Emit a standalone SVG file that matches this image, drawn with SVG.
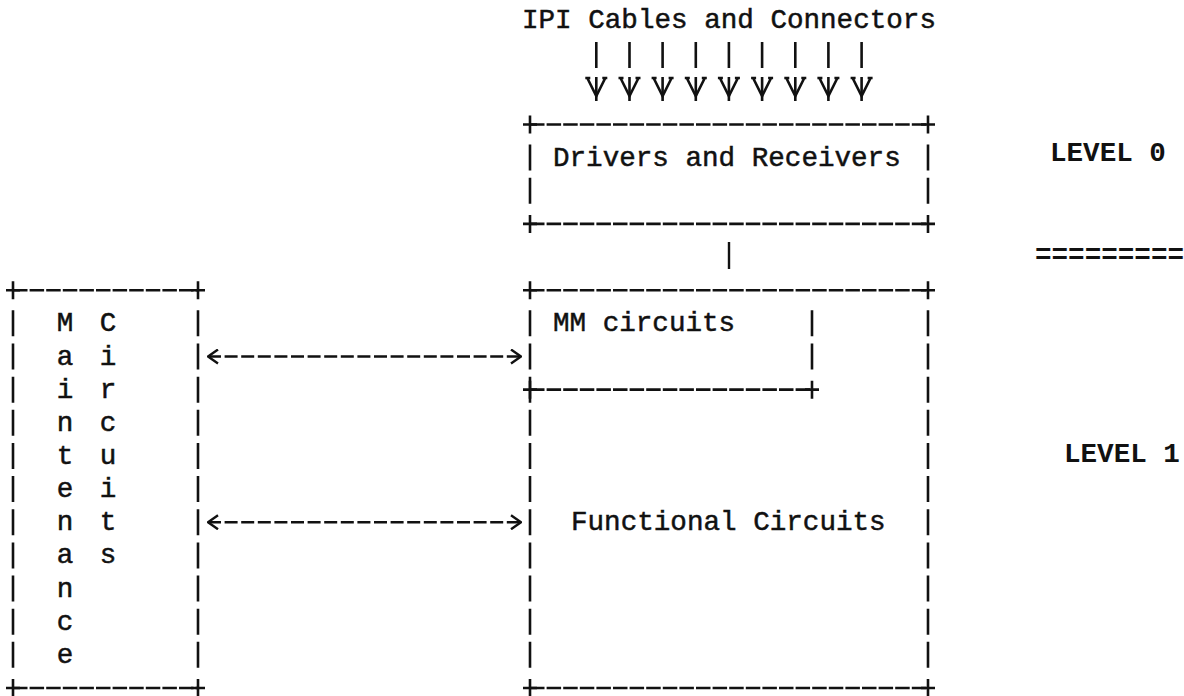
<svg xmlns="http://www.w3.org/2000/svg" xmlns:xlink="http://www.w3.org/1999/xlink" width="1184" height="696" viewBox="0 0 1184 696">
  <style>
    .t { font-family: "Liberation Mono", "Courier New", monospace; font-size: 27.6px; font-weight: normal; fill: #111; stroke: #111; stroke-width: 0.5; }
    .b { font-weight: bold; stroke-width: 0; }
    .m { text-anchor: middle; }
    .h { stroke: #111; stroke-width: 2.6; fill: none; stroke-dasharray: 14.5 2.1; }
    .v { stroke: #111; stroke-width: 2.6; fill: none; stroke-dasharray: 26 7.15; }
    .c { stroke: #111; stroke-width: 2.4; fill: none; }
    .ln { stroke: #111; stroke-width: 2.4; fill: none; stroke-dasharray: 13 3.6; }
  </style>
  <defs>
    <path id="plus" d="M-7,0 H7 M0,-9 V9" stroke="#111" stroke-width="2.6" fill="none"/>
    <g id="down">
      <path d="M0,42 V68 M0,77 V101" stroke="#111" stroke-width="2.6" fill="none"/>
      <path d="M-9,78 L0,96 L9,78 M-11,78 H-6 M6,78 H11" stroke="#111" stroke-width="2.6" fill="none"/>
    </g>
    <marker id="chev" viewBox="0 0 12 16" refX="11" refY="8" markerWidth="12" markerHeight="16" markerUnits="userSpaceOnUse" orient="auto-start-reverse">
      <path d="M1,1 L11,8 L1,15" stroke="#111" stroke-width="2.4" fill="none"/>
    </marker>
  </defs>
  <rect width="1184" height="696" fill="#fff"/>

  <g id="node-ipi">
    <text class="t" x="522" y="28">IPI Cables and Connectors</text>
  </g>

  <g id="node-drivers">
    <line class="h" x1="530" y1="124.45" x2="928" y2="124.45"/>
    <line class="h" x1="530" y1="223.9" x2="928" y2="223.9"/>
    <line class="v" x1="530" y1="144.6" x2="530" y2="203.75"/>
    <line class="v" x1="928" y1="144.6" x2="928" y2="203.75"/>
    <use xlink:href="#plus" x="530" y="124.45"/>
    <use xlink:href="#plus" x="928" y="124.45"/>
    <use xlink:href="#plus" x="530" y="223.9"/>
    <use xlink:href="#plus" x="928" y="223.9"/>
    <text class="t" x="553" y="165.6">Drivers and Receivers</text>
  </g>

  <g id="node-functional">
    <line class="h" x1="530" y1="290.2" x2="928" y2="290.2"/>
    <line class="h" x1="530" y1="688" x2="928" y2="688"/>
    <line class="v" x1="530" y1="310.35" x2="530" y2="667.85"/>
    <line class="v" x1="928" y1="310.35" x2="928" y2="667.85"/>
    <use xlink:href="#plus" x="530" y="290.2"/>
    <use xlink:href="#plus" x="928" y="290.2"/>
    <use xlink:href="#plus" x="530" y="688"/>
    <use xlink:href="#plus" x="928" y="688"/>
    <text class="t" x="571" y="530.25">Functional Circuits</text>
  </g>

  <g id="node-mm">
    <line class="h" x1="530" y1="389.65" x2="812" y2="389.65"/>
    <line class="v" x1="812" y1="310.35" x2="812" y2="369.5"/>
    <use xlink:href="#plus" x="530" y="389.65"/>
    <use xlink:href="#plus" x="812" y="389.65"/>
    <text class="t" x="553" y="331.35">MM circuits</text>
  </g>

  <g id="node-maintenance">
    <line class="h" x1="13" y1="290.2" x2="198" y2="290.2"/>
    <line class="h" x1="13" y1="688" x2="198" y2="688"/>
    <line class="v" x1="13" y1="310.35" x2="13" y2="667.85"/>
    <line class="v" x1="198" y1="310.35" x2="198" y2="667.85"/>
    <use xlink:href="#plus" x="13" y="290.2"/>
    <use xlink:href="#plus" x="198" y="290.2"/>
    <use xlink:href="#plus" x="13" y="688"/>
    <use xlink:href="#plus" x="198" y="688"/>
    <g class="t m">
      <text x="65" y="331.35">M</text>
      <text x="65" y="364.5">a</text>
      <text x="65" y="397.65">i</text>
      <text x="65" y="430.8">n</text>
      <text x="65" y="463.95">t</text>
      <text x="65" y="497.1">e</text>
      <text x="65" y="530.25">n</text>
      <text x="65" y="563.4">a</text>
      <text x="65" y="596.55">n</text>
      <text x="65" y="629.7">c</text>
      <text x="65" y="662.85">e</text>
      <text x="108" y="331.35">C</text>
      <text x="108" y="364.5">i</text>
      <text x="108" y="397.65">r</text>
      <text x="108" y="430.8">c</text>
      <text x="108" y="463.95">u</text>
      <text x="108" y="497.1">i</text>
      <text x="108" y="530.25">t</text>
      <text x="108" y="563.4">s</text>
    </g>
  </g>

  <g id="levels">
    <text class="t b" x="1050" y="161">LEVEL 0</text>
    <text class="t b" x="1035" y="263">=========</text>
    <text class="t b" x="1064" y="462">LEVEL 1</text>
  </g>

  <g id="connectors">
    <use xlink:href="#down" x="596.3"/>
    <use xlink:href="#down" x="629.5"/>
    <use xlink:href="#down" x="662.6"/>
    <use xlink:href="#down" x="695.8"/>
    <use xlink:href="#down" x="728.9"/>
    <use xlink:href="#down" x="762.1"/>
    <use xlink:href="#down" x="795.3"/>
    <use xlink:href="#down" x="828.4"/>
    <use xlink:href="#down" x="861.6"/>
    <line class="c" x1="729" y1="242" x2="729" y2="269"/>
    <line class="ln" x1="208" y1="356.5" x2="521" y2="356.5" marker-start="url(#chev)" marker-end="url(#chev)"/>
    <line class="ln" x1="208" y1="522.25" x2="521" y2="522.25" marker-start="url(#chev)" marker-end="url(#chev)"/>
  </g>
</svg>
